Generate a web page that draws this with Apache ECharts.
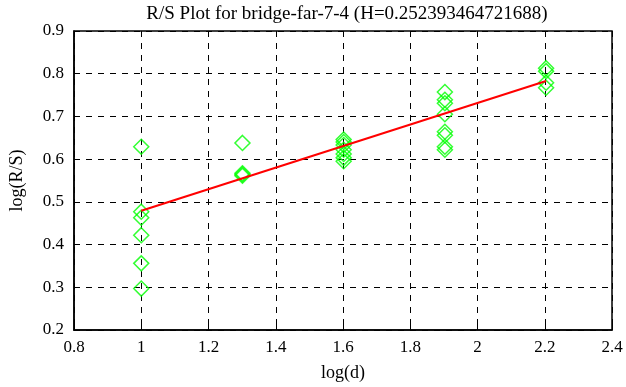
<!DOCTYPE html>
<html><head><meta charset="utf-8">
<script src="https://cdn.jsdelivr.net/npm/echarts@6/dist/echarts.min.js"></script>
<style>html,body{margin:0;padding:0;background:#fff}#c{width:626px;height:387px}</style>
</head><body><div id="c"></div>
<script>
const titleText = "R/S Plot for bridge-far-7-4 (H=0.252393464721688)";
const xName = "log(d)";
const yName = "log(R/S)";
const pointsX = [1,1,1,1,1,1, 1.301,1.301,1.301,1.301, 1.602,1.602,1.602,1.602,1.602,1.602,1.602, 1.903,1.903,1.903,1.903,1.903,1.903,1.903,1.903, 2.204,2.204,2.204,2.204];
const pointsY = [0.629,0.477,0.463,0.422,0.356,0.297, 0.638,0.567,0.564,0.561, 0.646,0.640,0.633,0.622,0.612,0.603,0.595, 0.757,0.739,0.731,0.705,0.664,0.656,0.629,0.622, 0.813,0.806,0.779,0.767];
const fitX = [1, 2.204];
const fitY = [0.479, 0.783];

const font = "Liberation Serif";
const chart = echarts.init(document.getElementById('c'));
chart.setOption({
  animation:false,
  title:{text:titleText,left:342,textAlign:'center',top:0,textStyle:{fontFamily:font,fontSize:19,fontWeight:'normal',color:'#000'}},
  grid:{left:72,right:14,top:31,bottom:56,show:true,borderColor:'#000',borderWidth:1.5},
  xAxis:{type:'value',min:0.8,max:2.4,interval:0.2,name:xName,nameLocation:'middle',nameGap:34,
    nameTextStyle:{fontFamily:font,fontSize:18,color:'#000'},
    axisLine:{show:true,lineStyle:{color:'#000',width:1.5}},axisTick:{show:true,inside:true,length:5,lineStyle:{color:'#000'}},
    axisLabel:{fontFamily:font,fontSize:17,color:'#000',margin:9,formatter:v=>String(+v.toFixed(1))},
    splitLine:{show:true,lineStyle:{color:'#000',type:[6,6],width:1}}},
  yAxis:{type:'value',min:0.2,max:0.9,interval:0.1,name:yName,nameLocation:'middle',nameGap:48,
    nameTextStyle:{fontFamily:font,fontSize:18,color:'#000'},
    axisLine:{show:true,lineStyle:{color:'#000',width:1.5}},axisTick:{show:true,inside:true,length:5,lineStyle:{color:'#000'}},
    axisLabel:{fontFamily:font,fontSize:17,color:'#000',margin:10,formatter:v=>String(+v.toFixed(1))},
    splitLine:{show:true,lineStyle:{color:'#000',type:[6,6],width:1}}},
  series:[
    {type:'scatter',data:pointsX.map((x,i)=>[x,pointsY[i]]),symbol:'diamond',symbolSize:15,
      itemStyle:{color:'rgba(0,0,0,0)',borderColor:'#00ff00',borderWidth:1.5},z:3},
    {type:'line',data:fitX.map((x,i)=>[x,fitY[i]]),symbol:'none',lineStyle:{color:'#ff0000',width:2},z:4}
  ]
});
</script></body></html>
